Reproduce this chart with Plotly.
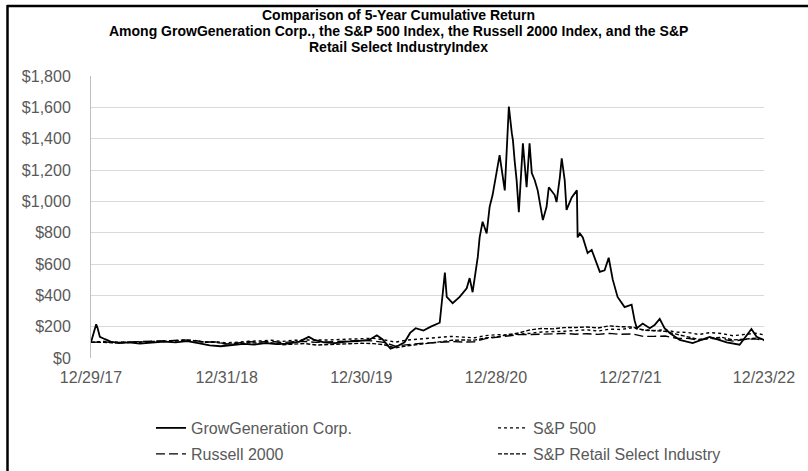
import plotly.graph_objects as go
import pandas as pd

# ---------------- data ----------------
gg_dates = [
    "2017-12-29", "2018-01-05", "2018-01-12", "2018-01-16", "2018-01-22", "2018-02-05",
    "2018-02-20", "2018-03-15", "2018-04-10", "2018-05-10", "2018-06-15", "2018-07-15",
    "2018-08-15", "2018-09-15", "2018-10-15", "2018-11-15", "2018-12-15", "2019-01-15",
    "2019-02-15", "2019-03-15", "2019-04-15", "2019-05-15", "2019-06-15", "2019-07-15",
    "2019-08-10", "2019-08-25", "2019-09-20", "2019-10-20", "2019-11-20", "2019-12-20",
    "2020-01-20", "2020-02-10", "2020-02-25", "2020-03-18", "2020-04-05", "2020-04-25",
    "2020-05-10", "2020-05-25", "2020-06-15", "2020-07-05", "2020-07-29", "2020-08-12",
    "2020-08-17", "2020-09-02", "2020-09-21", "2020-10-10", "2020-10-18", "2020-10-26",
    "2020-11-09", "2020-11-14", "2020-11-22", "2020-12-03", "2020-12-11", "2020-12-19",
    "2020-12-30", "2021-01-07", "2021-01-21", "2021-01-26", "2021-02-01", "2021-02-09",
    "2021-02-12", "2021-02-17", "2021-02-22", "2021-02-28", "2021-03-08", "2021-03-11",
    "2021-03-21", "2021-03-29", "2021-04-04", "2021-04-12", "2021-04-20", "2021-05-04",
    "2021-05-14", "2021-05-20", "2021-06-05", "2021-06-10", "2021-06-19", "2021-06-24",
    "2021-07-02", "2021-07-07", "2021-07-21", "2021-08-04", "2021-08-06", "2021-08-12",
    "2021-08-20", "2021-09-02", "2021-09-13", "2021-09-27", "2021-10-05", "2021-10-18",
    "2021-10-29", "2021-11-09", "2021-11-22", "2021-12-11", "2021-12-30", "2022-01-07",
    "2022-01-13", "2022-01-29", "2022-02-17", "2022-03-02", "2022-03-16", "2022-03-29",
    "2022-04-12", "2022-05-09", "2022-06-13", "2022-07-29", "2022-09-13", "2022-10-18",
    "2022-11-01", "2022-11-19", "2022-12-03", "2022-12-23",
]
gg_values = [
    100, 160, 215, 190, 135, 120,
    105, 95, 100, 92, 100, 105,
    100, 108, 95, 80, 75, 82,
    90, 85, 95, 88, 92, 105,
    135, 115, 100, 95, 105, 108,
    115, 145, 120, 60, 75, 100,
    160, 190, 175, 200, 225, 545,
    390, 350, 390, 445, 510, 420,
    645, 770, 870, 795, 965, 1040,
    1180, 1295, 1070, 1305, 1605, 1435,
    1390, 1250, 1135, 930, 1305, 1370,
    1090, 1370, 1180, 1135, 1070, 880,
    965, 1090, 1040, 995, 1155, 1275,
    1135, 945, 1025, 1070, 770, 795,
    770, 670, 690, 605, 550, 560,
    640, 500, 390, 325, 340, 240,
    190, 220, 190, 210, 250, 190,
    160, 115, 95, 135, 100, 85,
    130, 185, 135, 115,
]

idx_dates = (["2017-12-29"]
             + [d.strftime("%Y-%m-%d") for d in pd.date_range("2018-01-31", periods=59, freq="ME")]
             + ["2022-12-23"])

sp500 = [
    100,
    106, 102, 99, 100, 102, 103, 107, 110, 111, 103, 105, 96,
    103, 107, 109, 113, 106, 113, 115, 113, 115, 118, 122, 126,
    126, 116, 101, 114, 120, 122, 129, 138, 133, 129, 143, 149,
    147, 151, 158, 166, 167, 171, 175, 180, 172, 184, 182, 192,
    180, 175, 180, 165, 163, 150, 162, 156, 142, 152, 158, 148,
]
russell = [
    100,
    103, 99, 101, 102, 108, 109, 111, 116, 114, 102, 103, 89,
    99, 104, 102, 106, 98, 104, 105, 100, 103, 106, 110, 112,
    109, 100, 76, 86, 92, 96, 99, 105, 102, 104, 124, 134,
    141, 149, 150, 154, 154, 157, 152, 155, 151, 157, 151, 154,
    138, 138, 140, 126, 125, 114, 125, 120, 108, 118, 122, 112,
]
retail = [
    100,
    101, 96, 98, 98, 104, 107, 108, 114, 112, 100, 101, 88,
    95, 97, 95, 97, 85, 90, 92, 83, 87, 88, 91, 94,
    92, 85, 64, 77, 86, 95, 102, 113, 115, 114, 128, 135,
    150, 160, 180, 188, 186, 194, 195, 198, 192, 205, 200, 198,
    178, 172, 170, 152, 133, 118, 128, 132, 115, 122, 126, 118,
]

x_tick_dates = ["2017-12-29", "2018-12-31", "2019-12-30", "2020-12-28", "2021-12-27", "2022-12-23"]
x_tick_text = ["12/29/17", "12/31/18", "12/30/19", "12/28/20", "12/27/21", "12/23/22"]
y_ticks = [0, 200, 400, 600, 800, 1000, 1200, 1400, 1600, 1800]
y_tick_text = ["$0", "$200", "$400", "$600", "$800", "$1,000", "$1,200", "$1,400", "$1,600", "$1,800"]
y_grid = [200, 400, 600, 800, 1000, 1200, 1400, 1600]

title_lines = [
    "Comparison of 5-Year Cumulative Return",
    "Among GrowGeneration Corp., the S&P 500 Index, the Russell 2000 Index, and the S&P",
    "Retail Select IndustryIndex",
]

# ---------------- figure ----------------
FONT = "Liberation Sans, Arial, sans-serif"
L, R, T, B = 91, 44, 76, 113
plot_h = 471 - T - B
plot_w = 808 - L - R


def px_x(px):
    return (px - L) / plot_w


def px_y(py):
    return (471 - B - py) / plot_h


fig = go.Figure()
fig.add_trace(go.Scatter(x=gg_dates, y=gg_values, mode="lines", name="GrowGeneration Corp.",
                         line=dict(color="black", width=1.8), legend="legend"))
fig.add_trace(go.Scatter(x=idx_dates, y=sp500, mode="lines", name="S&P 500",
                         line=dict(color="black", width=1.4, dash="dot"), legend="legend2"))
fig.add_trace(go.Scatter(x=idx_dates, y=russell, mode="lines", name="Russell 2000",
                         line=dict(color="black", width=1.4, dash="9px,4px"), legend="legend3"))
fig.add_trace(go.Scatter(x=idx_dates, y=retail, mode="lines", name="S&P Retail Select Industry",
                         line=dict(color="black", width=1.4, dash="4px,2px"), legend="legend4"))
# invisible helper on y2 so the gridline axis renders
fig.add_trace(go.Scatter(x=[idx_dates[0]], y=[0], yaxis="y2", mode="lines",
                         showlegend=False, hoverinfo="skip", line=dict(color="rgba(0,0,0,0)")))

legend_common = dict(
    orientation="h", xanchor="left", yanchor="middle",
    font=dict(family=FONT, size=16, color="#595959"),
    bgcolor="rgba(0,0,0,0)", borderwidth=0, itemwidth=30,
)

annotations = []
for i, line in enumerate(title_lines):
    annotations.append(dict(
        text=line, showarrow=False, xref="paper", yref="paper",
        x=px_x(398), y=px_y(15 + 16 * i), xanchor="center", yanchor="middle",
        font=dict(family=FONT, size=14, color="black", weight="bold"),
    ))

fig.update_layout(
    width=808, height=471,
    margin=dict(l=L, r=R, t=T, b=B, autoexpand=False),
    paper_bgcolor="white", plot_bgcolor="white",
    xaxis=dict(
        type="date", range=["2017-12-29", "2022-12-23"],
        tickmode="array", tickvals=x_tick_dates, ticktext=x_tick_text,
        showgrid=False, showline=False, zeroline=False, ticks="",
        tickfont=dict(family=FONT, size=16, color="#595959"),
        ticklabelstandoff=8,
    ),
    yaxis=dict(
        range=[0, 1800], tickmode="array", tickvals=y_ticks, ticktext=y_tick_text,
        showgrid=False, zeroline=False, showline=True, linecolor="#bfbfbf", linewidth=1,
        ticks="", tickfont=dict(family=FONT, size=16, color="#595959"),
        ticklabelstandoff=16,
    ),
    yaxis2=dict(
        range=[0, 1800], overlaying="y", tickmode="array", tickvals=y_grid,
        showgrid=True, gridcolor="#d9d9d9", gridwidth=1.3,
        showticklabels=False, zeroline=False, showline=False, ticks="",
    ),
    legend=dict(x=px_x(151), y=px_y(428), **legend_common),
    legend2=dict(x=px_x(493), y=px_y(428), **legend_common),
    legend3=dict(x=px_x(151), y=px_y(454), **legend_common),
    legend4=dict(x=px_x(493), y=px_y(454), **legend_common),
    annotations=annotations,
    shapes=[
        dict(type="line", xref="paper", yref="paper",
             x0=px_x(7), x1=px_x(815), y0=px_y(6), y1=px_y(6),
             line=dict(color="black", width=2.5)),
        dict(type="line", xref="paper", yref="paper",
             x0=px_x(7.5), x1=px_x(7.5), y0=px_y(5), y1=px_y(480),
             line=dict(color="black", width=2.5)),
    ],
    showlegend=True,
)

fig.write_html("out.html")
